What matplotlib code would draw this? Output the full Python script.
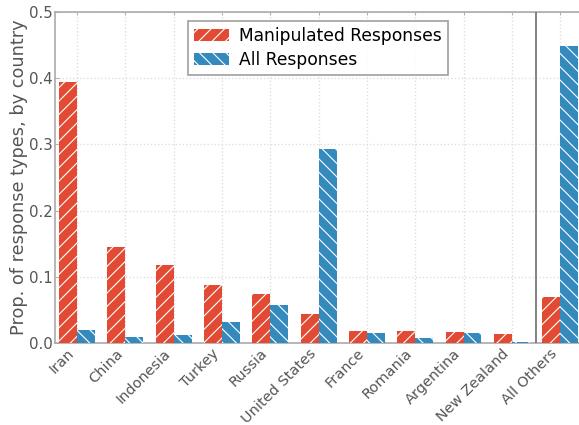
import matplotlib
matplotlib.use("Agg")
import matplotlib.pyplot as plt
import numpy as np

plt.rcParams['hatch.color'] = 'white'
plt.rcParams['hatch.linewidth'] = 1.0

countries = ["Iran", "China", "Indonesia", "Turkey", "Russia", "United States",
             "France", "Romania", "Argentina", "New Zealand", "All Others"]
manipulated = [0.395, 0.145, 0.118, 0.088, 0.074, 0.044, 0.018, 0.018, 0.017, 0.014, 0.070]
all_resp = [0.020, 0.009, 0.012, 0.032, 0.057, 0.293, 0.015, 0.008, 0.015, 0.002, 0.449]

red = "#E24A33"
blue = "#348ABD"
grey = "#555555"

DPI = 80
fig = plt.figure(figsize=(579/DPI, 425/DPI), dpi=DPI)
ax = fig.add_axes([55/579, 1-343/425, (582-55)/579, (343-12)/425])

x = np.arange(len(countries))
w = 0.37
ax.bar(x - w/2, manipulated, w, color=red, hatch='//', edgecolor='white', linewidth=0,
       label="Manipulated Responses", zorder=3)
ax.bar(x + w/2, all_resp, w, color=blue, hatch='\\\\', edgecolor='white', linewidth=0,
       label="All Responses", zorder=3)

ax.axvline(9.5, color='#777777', lw=1.6, zorder=4)

ax.set_xlim(-0.455, len(countries) - 1 + 0.45)
ax.set_ylim(0, 0.5)
ax.set_yticks([0.0, 0.1, 0.2, 0.3, 0.4, 0.5])
ax.set_xticks(x)
ax.set_xticklabels(countries, rotation=45, ha='right', fontsize=13, color=grey)
ax.tick_params(axis='y', labelsize=13.5, labelcolor=grey, color='#aaaaaa', direction='in', pad=2)
ax.tick_params(axis='x', color='#aaaaaa', direction='in', top=True, length=3, pad=3)
ax.set_ylabel("Prop. of response types, by country", fontsize=16, color=grey, labelpad=0.5)

ax.grid(True, linestyle=':', color='#dddddd', lw=1.2, zorder=0)
for s in ax.spines.values():
    s.set_color('#aaaaaa')
    s.set_linewidth(1.5)

leg = ax.legend(loc='upper center', bbox_to_anchor=(0.499, 0.973), fontsize=15.4,
                frameon=True, fancybox=False, handlelength=2, borderpad=0.35,
                labelspacing=0.35, handletextpad=0.6, borderaxespad=0)
leg.get_frame().set_edgecolor('#888888')
leg.get_frame().set_linewidth(1.5)

fig.savefig("out.png", dpi=DPI)
